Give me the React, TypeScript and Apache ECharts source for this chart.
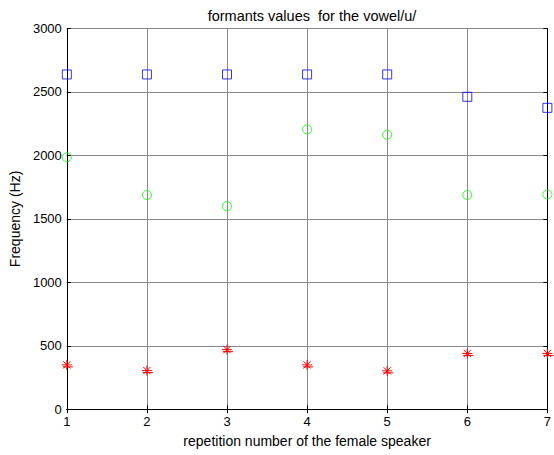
import React, { useEffect, useRef } from "react";
import * as echarts from "echarts";

// Repetition index (x) and the three formant measurements (Hz)
const repetitions = [1, 2, 3, 4, 5, 6, 7];
const f1 = [350, 305, 470, 350, 303, 440, 440];
const f2 = [1985, 1688, 1600, 2205, 2162, 1688, 1693];
const f3 = [2638, 2638, 2638, 2638, 2638, 2462, 2375];
const yTicks = [0, 500, 1000, 1500, 2000, 2500, 3000];

const FONT = "'Liberation Sans', Arial, sans-serif";

export default function App() {
  const ref = useRef<HTMLDivElement>(null);

  useEffect(() => {
    if (!ref.current) return;
    const chart = echarts.init(ref.current, null, { renderer: "svg" });

    const pts = (vals: number[]) => repetitions.map((x, i) => [x, vals[i]]);

    const gridLine = { show: true, lineStyle: { color: "#8a8a8a", width: 1, type: "solid" as const } };
    const blackLine = { show: true, lineStyle: { color: "#000", width: 1 } };
    const innerTick = { show: true, inside: true, length: 4, lineStyle: { color: "#000" } };

    chart.setOption({
      animation: false,
      backgroundColor: "#fff",
      textStyle: { fontFamily: FONT },
      title: {
        text: "formants values  for the vowel/u/",
        left: 307,
        textAlign: "center",
        top: 3,
        textStyle: { fontSize: 14.5, fontWeight: "normal", color: "#000", fontFamily: FONT },
      },
      grid: { left: 66.5, right: 4.5, top: 28.5, bottom: 45.7 },
      xAxis: [
        {
          type: "value",
          min: 1,
          max: 7,
          interval: 1,
          axisLine: blackLine,
          axisTick: innerTick,
          splitLine: gridLine,
          axisLabel: { color: "#000", fontSize: 13, margin: 6, fontFamily: FONT },
          name: "repetition number of the female speaker",
          nameLocation: "middle",
          nameGap: 25,
          nameTextStyle: { color: "#000", fontSize: 14, fontFamily: FONT },
        },
        {
          type: "value",
          position: "top",
          min: 1,
          max: 7,
          interval: 1,
          axisLine: blackLine,
          axisTick: innerTick,
          splitLine: { show: false },
          axisLabel: { show: false },
        },
      ],
      yAxis: [
        {
          type: "value",
          min: yTicks[0],
          max: yTicks[yTicks.length - 1],
          interval: 500,
          axisLine: blackLine,
          axisTick: innerTick,
          splitLine: gridLine,
          axisLabel: {
            color: "#000",
            fontSize: 13,
            margin: 5,
            fontFamily: FONT,
            formatter: (v: number) => String(v),
          },
          name: "Frequency (Hz)",
          nameLocation: "middle",
          nameGap: 44,
          nameRotate: 90,
          nameTextStyle: { color: "#000", fontSize: 14, fontFamily: FONT },
        },
        {
          type: "value",
          position: "right",
          min: yTicks[0],
          max: yTicks[yTicks.length - 1],
          interval: 500,
          axisLine: blackLine,
          axisTick: innerTick,
          splitLine: { show: false },
          axisLabel: { show: false },
        },
      ],
      series: [
        {
          name: "F3",
          type: "scatter",
          data: pts(f3),
          symbol: "rect",
          symbolSize: 9,
          clip: false,
          itemStyle: { color: "transparent", borderColor: "#0000ff", borderWidth: 1 },
          z: 5,
        },
        {
          name: "F2",
          type: "scatter",
          data: pts(f2),
          symbol: "circle",
          symbolSize: 9,
          clip: false,
          itemStyle: { color: "transparent", borderColor: "#00ff00", borderWidth: 1 },
          z: 5,
        },
        {
          name: "F1",
          type: "custom",
          data: pts(f1),
          clip: false,
          z: 5,
          renderItem: (_params: any, api: any) => {
            const p = api.coord([api.value(0), api.value(1)]);
            const r = 5;
            const d = r * 0.72;
            const style = { stroke: "#ff0000", lineWidth: 1, fill: "none" };
            const seg = (x1: number, y1: number, x2: number, y2: number) => ({
              type: "line",
              shape: { x1: p[0] + x1, y1: p[1] + y1, x2: p[0] + x2, y2: p[1] + y2 },
              style,
            });
            return {
              type: "group",
              children: [
                seg(-r, 0, r, 0),
                seg(0, -r, 0, r),
                seg(-d, -d, d, d),
                seg(-d, d, d, -d),
                seg(-r + 1, 2, r + 1, 2),
              ],
            };
          },
        },
      ],
    });

    return () => chart.dispose();
  }, []);

  return (
    <div
      ref={ref}
      style={{ position: "absolute", left: 0, top: 0, width: 554, height: 455 }}
    />
  );
}
